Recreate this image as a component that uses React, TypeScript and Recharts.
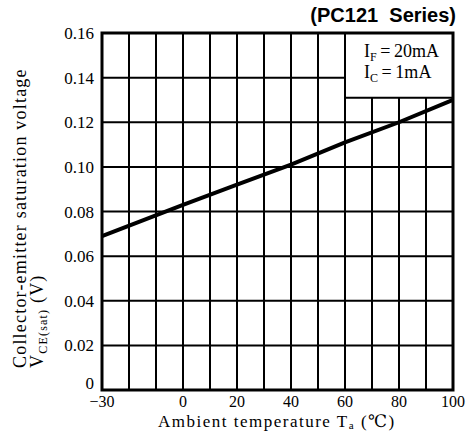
import React from "react";
import {
  LineChart,
  Line,
  XAxis,
  YAxis,
  CartesianGrid,
  ReferenceArea,
} from "recharts";

// Ambient temperature (°C) and VCE(sat) (V)
const temps = [-30, 0, 20, 40, 60, 80, 100];
const vce = [0.069, 0.083, 0.092, 0.101, 0.111, 0.12, 0.13];

const xTicks = [-30, -20, -10, 0, 10, 20, 30, 40, 50, 60, 70, 80, 90, 100];
const xLabels = [-30, 0, 20, 40, 60, 80, 100];
const yTicks = [0, 0.02, 0.04, 0.06, 0.08, 0.1, 0.12, 0.14, 0.16];

const data = temps.map((t, i) => ({ t, v: vce[i] }));

const serif = "'Liberation Serif', 'DejaVu Serif', serif";

const fmtX = (v: number) =>
  xLabels.includes(v) ? (v < 0 ? "\u2212" + Math.abs(v) : String(v)) : "";
const fmtY = (v: number) => (v === 0 ? "0" : v.toFixed(2));

const XTick = (props: any) => {
  const { x, y, payload } = props;
  const s = fmtX(payload.value);
  if (!s) return null;
  return (
    <text x={x} y={y + 15} textAnchor="middle" style={{ fontFamily: serif, fontSize: 16 }} fill="#000">
      {s}
    </text>
  );
};

const YTick = (props: any) => {
  const { x, y, payload } = props;
  // the zero label sits a little above the bottom border
  const dy = payload.value === 0 ? -1 : 6;
  return (
    <text x={x - 6} y={y + dy} textAnchor="end" style={{ fontFamily: serif, fontSize: 17 }} fill="#000">
      {fmtY(payload.value)}
    </text>
  );
};

const CondBox = (props: any) => {
  const { x, y } = props.viewBox;
  return (
    <g style={{ fontFamily: serif, fontSize: 18 }} fill="#000">
      <text x={x + 19} y={y + 24}>
        I<tspan fontSize={12} dy={4}>F</tspan>
        <tspan dy={-4}>{"\u2009=\u200920mA"}</tspan>
      </text>
      <text x={x + 19} y={y + 45}>
        I<tspan fontSize={12} dy={4}>C</tspan>
        <tspan dy={-4}>{"\u2009=\u20091mA"}</tspan>
      </text>
    </g>
  );
};

const YTitle = () => (
  <g style={{ fontFamily: serif, fontSize: 18, letterSpacing: 1.2 }} fill="#000">
    <text transform="translate(26,368) rotate(-90)">
      Collector-emitter  saturation  voltage
    </text>
    <text transform="translate(43,368) rotate(-90)">
      V<tspan fontSize={12} dy={4}>CE(sat)</tspan>
      <tspan dy={-4}>{"  (V)"}</tspan>
    </text>
  </g>
);

const XTitle = () => (
  <text x={158} y={427} style={{ fontFamily: serif, fontSize: 17, letterSpacing: 1.5 }} fill="#000">
    Ambient temperature  T<tspan fontSize={11} dy={2}>a</tspan>
    <tspan dy={-2}>{"  (\u2103)"}</tspan>
  </text>
);

export default function App() {
  return (
    <div style={{ position: "absolute", left: 0, top: 0, width: 470, height: 433, background: "#fff" }}>
      <div
        style={{
          position: "absolute",
          right: 14,
          top: 3,
          fontFamily: "'Liberation Sans', Arial, sans-serif",
          fontWeight: "bold",
          fontSize: 20,
          whiteSpace: "pre",
          lineHeight: "24px",
        }}
      >
        {"(PC121  Series)"}
      </div>
      <LineChart
        width={470}
        height={433}
        data={data}
        margin={{ top: 33, right: 17, left: 0, bottom: 13 }}
      >
        <CartesianGrid stroke="#000" strokeWidth={2} />
        <XAxis
          dataKey="t"
          type="number"
          domain={[-30, 100]}
          ticks={xTicks}
          interval={0}
          axisLine={false}
          tickLine={false}
          tickSize={0}
          height={30}
          tick={<XTick />}
        />
        <YAxis
          type="number"
          domain={[0, 0.16]}
          ticks={yTicks}
          interval={0}
          axisLine={false}
          tickLine={false}
          tickSize={0}
          width={102}
          tick={<YTick />}
        />
        <ReferenceArea
          x1={60}
          x2={100}
          y1={0.131}
          y2={0.16}
          fill="#fff"
          fillOpacity={1}
          stroke="#000"
          strokeWidth={2}
          ifOverflow="visible"
          label={<CondBox />}
        />
        <ReferenceArea
          x1={-30}
          x2={100}
          y1={0}
          y2={0.16}
          fill="none"
          stroke="#000"
          strokeWidth={3}
          ifOverflow="visible"
        />
        <Line
          dataKey="v"
          type="linear"
          stroke="#000"
          strokeWidth={4}
          dot={false}
          isAnimationActive={false}
        />
        <YTitle />
        <XTitle />
      </LineChart>
    </div>
  );
}
